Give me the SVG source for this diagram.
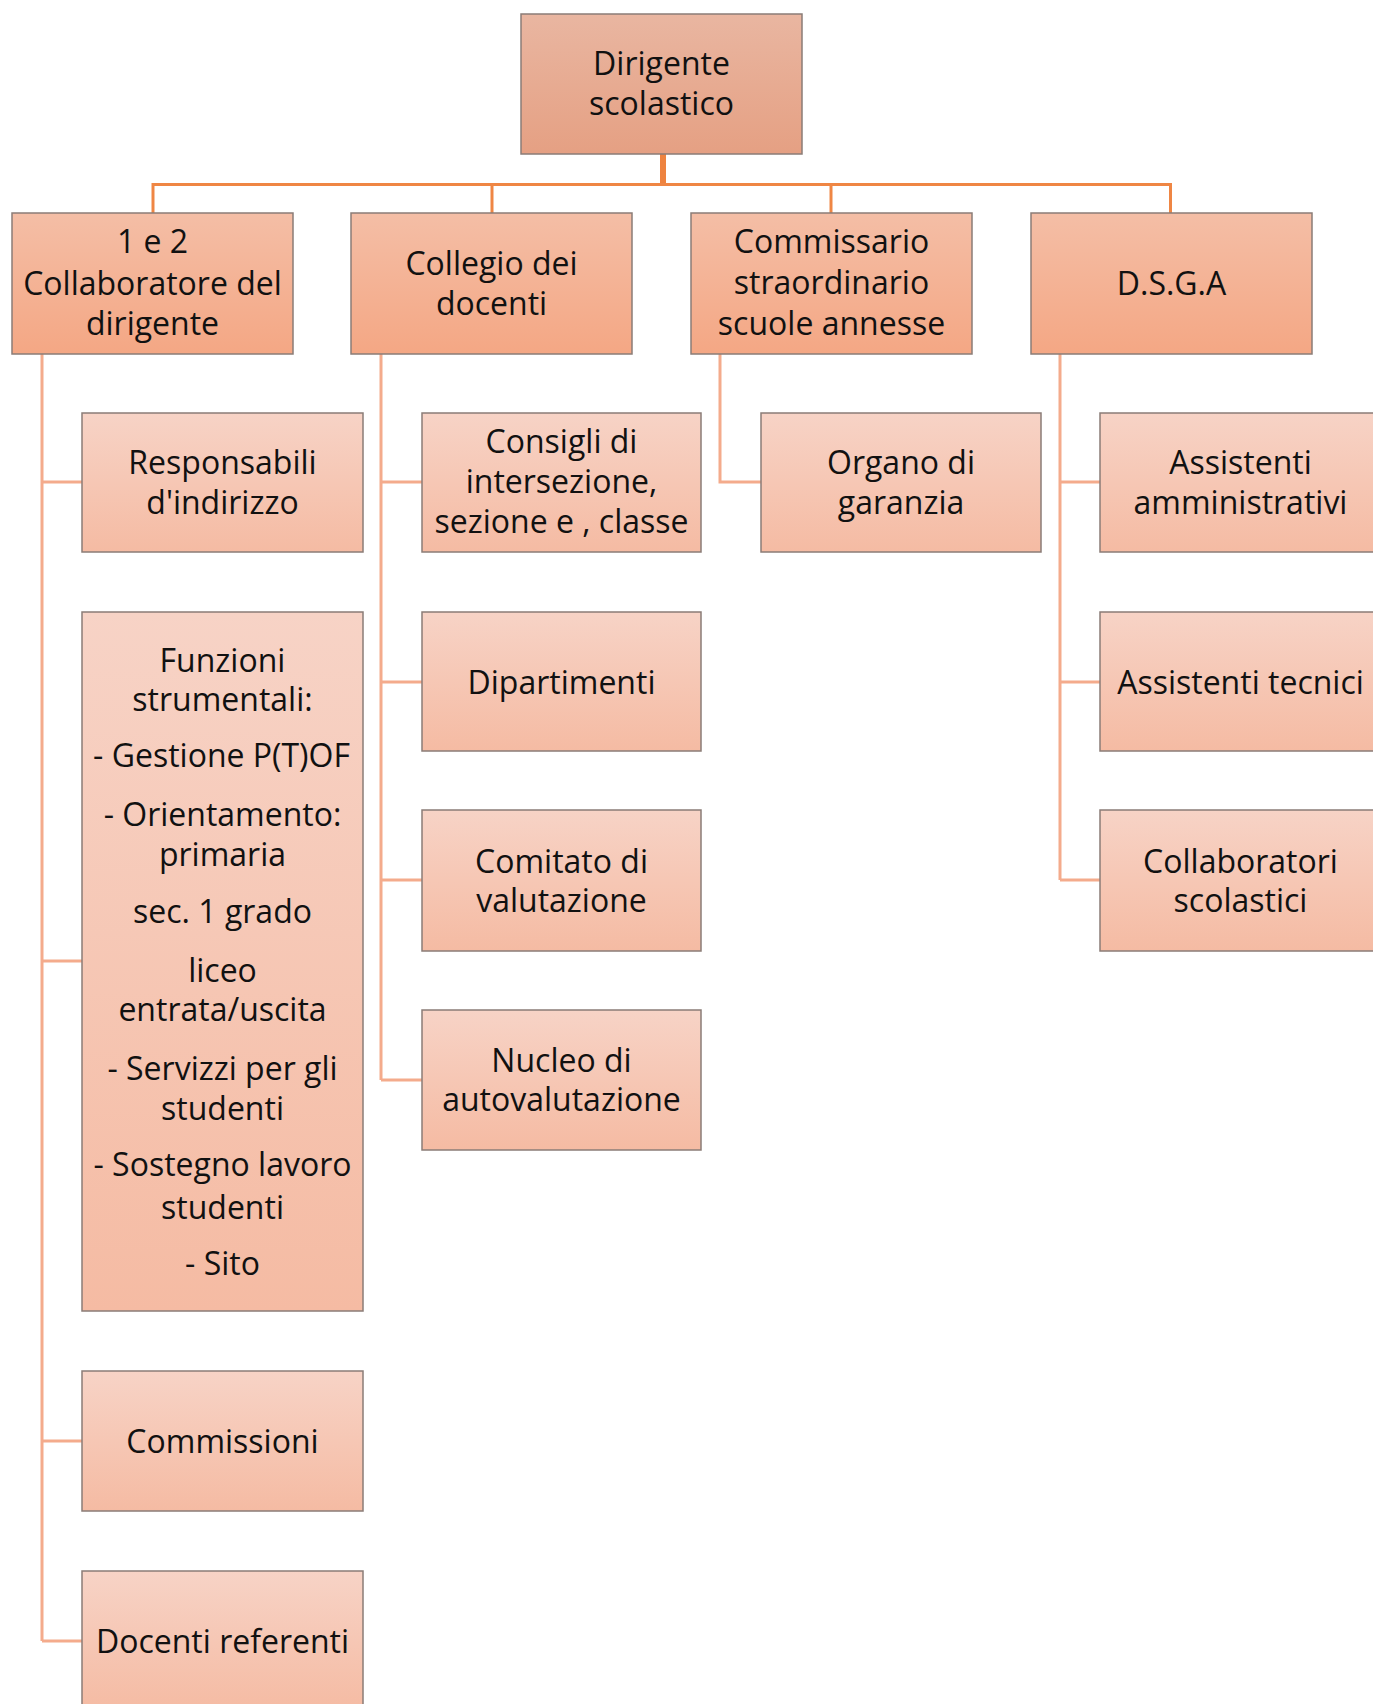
<svg xmlns="http://www.w3.org/2000/svg" width="1373" height="1704" viewBox="0 0 1373 1704">
<defs>
<linearGradient id="g0" x1="0" y1="0" x2="0" y2="1"><stop offset="0" stop-color="#E9B6A1"/><stop offset="1" stop-color="#E5A083"/></linearGradient>
<linearGradient id="g1" x1="0" y1="0" x2="0" y2="1"><stop offset="0" stop-color="#F4BEA6"/><stop offset="1" stop-color="#F4A784"/></linearGradient>
<linearGradient id="g2" x1="0" y1="0" x2="0" y2="1"><stop offset="0" stop-color="#F7D3C6"/><stop offset="1" stop-color="#F5BBA3"/></linearGradient>
</defs>
<style>
.b{stroke:#8A7C77;stroke-width:1.5}
.l0{fill:url(#g0)}
.l1{fill:url(#g1)}
.l2{fill:url(#g2)}
.t{font-family:"Open Sans","Liberation Sans",sans-serif;font-size:32px;fill:#111;text-anchor:middle}
.c1{stroke:#EF8644;stroke-width:3;fill:none}
.c2{stroke:#F4AB8C;stroke-width:3;fill:none}
.stem{stroke:#EE8340;stroke-width:6;fill:none}
</style>
<rect width="1373" height="1704" fill="#fff"/>
<g id="connectors">
<line class="stem" x1="663" y1="154" x2="663" y2="185"/>
<line class="c1" x1="152" y1="184.5" x2="1172" y2="184.5"/>
<line class="c1" x1="153" y1="183" x2="153" y2="213"/>
<line class="c1" x1="492" y1="183" x2="492" y2="213"/>
<line class="c1" x1="831" y1="183" x2="831" y2="213"/>
<line class="c1" x1="1170.5" y1="183" x2="1170.5" y2="213"/>
<path class="c2" d="M42 354V1641M42 482H82M42 961H82M42 1441H82M42 1641H82"/>
<path class="c2" d="M381 354V1080M381 482H422M381 682H422M381 880H422M381 1080H422"/>
<path class="c2" d="M720 354V482H761"/>
<path class="c2" d="M1060 354V880M1060 482H1100M1060 682H1100M1060 880H1100"/>
</g>
<g id="n-dirigente"><rect class="b l0" x="521" y="14" width="281" height="140"/>
<text class="t" x="661.5" y="75">Dirigente</text><text class="t" x="661.5" y="115">scolastico</text></g>
<g id="n-collaboratore"><rect class="b l1" x="12" y="213" width="281" height="141"/>
<text class="t" x="152.5" y="253">1 e 2</text><text class="t" x="152.5" y="295">Collaboratore del</text><text class="t" x="152.5" y="335">dirigente</text></g>
<g id="n-collegio"><rect class="b l1" x="351" y="213" width="281" height="141"/>
<text class="t" x="491.5" y="275">Collegio dei</text><text class="t" x="491.5" y="315">docenti</text></g>
<g id="n-commissario"><rect class="b l1" x="691" y="213" width="281" height="141"/>
<text class="t" x="831.5" y="253">Commissario</text><text class="t" x="831.5" y="294">straordinario</text><text class="t" x="831.5" y="335">scuole annesse</text></g>
<g id="n-dsga"><rect class="b l1" x="1031" y="213" width="281" height="141"/>
<text class="t" x="1171.5" y="295">D.S.G.A</text></g>
<g id="n-responsabili"><rect class="b l2" x="82" y="413" width="281" height="139"/>
<text class="t" x="222.5" y="474">Responsabili</text><text class="t" x="222.5" y="514">d'indirizzo</text></g>
<g id="n-funzioni"><rect class="b l2" x="82" y="612" width="281" height="699"/>
<text class="t" x="222.5" y="672">Funzioni</text>
<text class="t" x="222.5" y="711">strumentali:</text>
<text class="t" x="221.5" y="767">- Gestione P(T)OF</text>
<text class="t" x="222.5" y="826">- Orientamento:</text>
<text class="t" x="222.5" y="866">primaria</text>
<text class="t" x="222.5" y="923">sec. 1 grado</text>
<text class="t" x="222.5" y="982">liceo</text>
<text class="t" x="222.5" y="1021">entrata/uscita</text>
<text class="t" x="222.5" y="1080">- Servizzi per gli</text>
<text class="t" x="222.5" y="1120">studenti</text>
<text class="t" x="222.5" y="1176">- Sostegno lavoro</text>
<text class="t" x="222.5" y="1219">studenti</text>
<text class="t" x="222.5" y="1275">- Sito</text></g>
<g id="n-commissioni"><rect class="b l2" x="82" y="1371" width="281" height="140"/>
<text class="t" x="222.5" y="1453">Commissioni</text></g>
<g id="n-docenti"><rect class="b l2" x="82" y="1571" width="281" height="140"/>
<text class="t" x="222.5" y="1653">Docenti referenti</text></g>
<g id="n-consigli"><rect class="b l2" x="422" y="413" width="279" height="139"/>
<text class="t" x="561.5" y="453">Consigli di</text><text class="t" x="561.5" y="493">intersezione,</text><text class="t" x="561.5" y="533">sezione e , classe</text></g>
<g id="n-dipartimenti"><rect class="b l2" x="422" y="612" width="279" height="139"/>
<text class="t" x="561.5" y="694">Dipartimenti</text></g>
<g id="n-comitato"><rect class="b l2" x="422" y="810" width="279" height="141"/>
<text class="t" x="561.5" y="873">Comitato di</text><text class="t" x="561.5" y="912">valutazione</text></g>
<g id="n-nucleo"><rect class="b l2" x="422" y="1010" width="279" height="140"/>
<text class="t" x="561.5" y="1072">Nucleo di</text><text class="t" x="561.5" y="1111">autovalutazione</text></g>
<g id="n-organo"><rect class="b l2" x="761" y="413" width="280" height="139"/>
<text class="t" x="901" y="474">Organo di</text><text class="t" x="901" y="514">garanzia</text></g>
<g id="n-amministrativi"><rect class="b l2" x="1100" y="413" width="290" height="139"/>
<text class="t" x="1240.5" y="474">Assistenti</text><text class="t" x="1240.5" y="514">amministrativi</text></g>
<g id="n-tecnici"><rect class="b l2" x="1100" y="612" width="290" height="139"/>
<text class="t" x="1240.5" y="694">Assistenti tecnici</text></g>
<g id="n-collaboratori"><rect class="b l2" x="1100" y="810" width="290" height="141"/>
<text class="t" x="1240.5" y="873">Collaboratori</text><text class="t" x="1240.5" y="912">scolastici</text></g>
</svg>
